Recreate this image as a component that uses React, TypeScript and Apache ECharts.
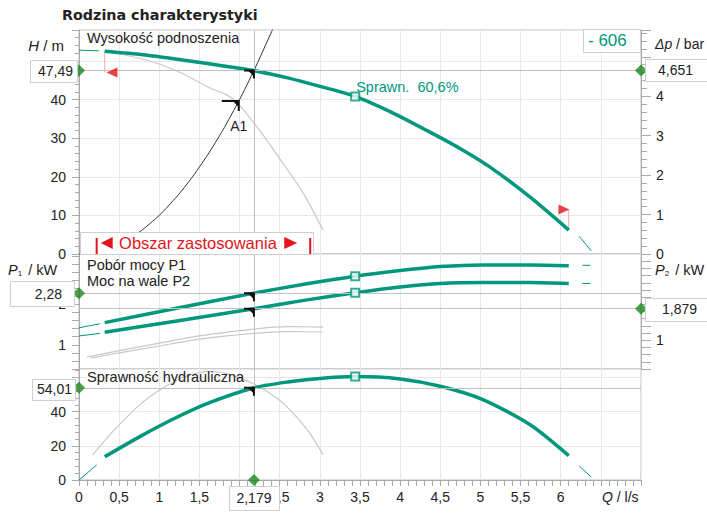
import React, { useEffect, useRef } from "react";
import * as echarts from "echarts";

const FONT = "'Liberation Sans', Arial, Helvetica, sans-serif";
const TEAL = "#00977c";
const GREY = "#c8c8c8";
const GRIDC = "#e8e8e8";
const AXIS = "#aaaaaa";
const OPLINE = "#c2c2c2";
const DIAMOND = "#1d8a1d";
const RED = "#e3141b";
const PINK = "#f2a9a9";

// operating point
const qOp = 2.179;
const headOp = 47.49;
const dpOp = 4.651;
const p1Op = 2.28;
const p2Op = 1.879;
const etaOp = 54.01;
// best efficiency point
const qBep = 3.44;
const headBep = 40.8;
const p1Bep = 2.7;
const p2Bep = 2.32;
const etaBep = 60.6;
const pumpLabel = "- 606";
const bepLabel = "Sprawn.  60,6%";
const a1Point = [1.99, 39.6];
const rangeBarsQ = [0.22, 2.88];
const rangeArrowLeft = [0.41, 47.0];
const rangeArrowRight = [6.04, 11.5];

// head H [m]
const headStart = [[0, 52.8], [0.25, 52.6]];
const headCurve = [
  [0.32, 52.5], [0.8, 51.6], [1.2, 50.5], [1.6, 49.3], [2.0, 48.1], [2.179, 47.49],
  [2.6, 45.6], [3.0, 43.4], [3.44, 40.8], [3.9, 36.6], [4.33, 32.0], [4.74, 27.4],
  [5.12, 22.5], [5.62, 14.7], [6.1, 6.2],
];
const headEnd = [[6.23, 4.6], [6.38, 0.8]];
const headMin = [
  [0.32, 52.3], [0.6, 51.4], [1.0, 49.2], [1.3, 46.6], [1.63, 43.0], [1.84, 41.2],
  [1.97, 39.2], [2.25, 32.0], [2.54, 23.5], [2.8, 15.5], [3.04, 6.2],
];
const systemCurve = [
  [0, 0], [0.5, 2.5], [0.76, 5.8], [1.0, 10.0], [1.22, 14.9], [1.4, 19.6], [1.6, 25.6],
  [1.79, 32.0], [2.0, 40.0], [2.179, 47.49], [2.4, 57.6], [2.42, 58.6],
];
const rangeLineLeft = [[0.32, 52.5], [0.32, 47.0]];
const rangeLineRight = [[6.1, 6.2], [6.1, 11.5]];

// power P1 / P2 [kW]
const p1Start = [[0, 1.42], [0.26, 1.52]];
const p1Curve = [
  [0.32, 1.55], [1.2, 1.9], [2.179, 2.28], [2.8, 2.5], [3.44, 2.7], [4.0, 2.84],
  [4.5, 2.94], [5.03, 2.98], [5.62, 2.98], [6.1, 2.96],
];
const p1End = [[6.27, 2.97], [6.37, 2.97]];
const p1Min = [[0.1, 0.7], [1.0, 1.04], [1.5, 1.22], [2.18, 1.39], [2.6, 1.45], [3.04, 1.44]];
const p2Start = [[0, 1.12], [0.26, 1.19]];
const p2Curve = [
  [0.32, 1.22], [1.2, 1.53], [2.179, 1.879], [2.8, 2.11], [3.44, 2.32], [4.0, 2.48],
  [4.5, 2.58], [5.03, 2.61], [5.62, 2.61], [6.1, 2.58],
];
const p2End = [[6.27, 2.58], [6.37, 2.58]];
const p2Min = [[0.15, 0.51], [1.0, 0.84], [1.5, 1.03], [2.18, 1.19], [2.6, 1.24], [3.04, 1.23]];

// hydraulic efficiency [%]
const etaStart = [[0, 0], [0.22, 8.8]];
const etaCurve = [
  [0.32, 13.6], [0.78, 26.0], [1.2, 36.3], [1.61, 45.0], [2.179, 54.01], [2.6, 57.4],
  [3.0, 59.5], [3.44, 60.6], [4.0, 59.2], [4.5, 54.9], [5.03, 47.1], [5.62, 32.4], [6.1, 14.3],
];
const etaEnd = [[6.23, 8.2], [6.38, 1.8]];
const etaMin = [
  [0.17, 14.7], [0.36, 25.3], [0.6, 37], [0.78, 45], [1.0, 52.5], [1.2, 58], [1.4, 61.8],
  [1.6, 63.5], [1.8, 62.8], [1.94, 60.8], [2.19, 55.9], [2.4, 50], [2.6, 42.4], [2.85, 29], [3.04, 14.7],
];

const fmt = (v: number) => String(+v.toFixed(3)).replace(".", ",");
const near = (a: number, b: number) => Math.abs(a - b) < 1e-6;

const tickLabel = { color: "#222", fontSize: 14, fontFamily: FONT };

function L(data: any, xi: number, yi: number, color: string, width: number, extra: any = {}) {
  return {
    type: "line", data, xAxisIndex: xi, yAxisIndex: yi, symbol: "none", showSymbol: false,
    smooth: 0.25, lineStyle: { color, width }, silent: true, z: 3, ...extra,
  };
}
function opLine(data: any[]) {
  return { silent: true, symbol: "none", label: { show: false }, lineStyle: { color: OPLINE, width: 1, type: "solid" }, data };
}
function S(data: any, xi: number, yi: number, extra: any = {}) {
  return { type: "scatter", data, xAxisIndex: xi, yAxisIndex: yi, silent: true, clip: false, z: 6, ...extra };
}
const square = { symbol: "rect", symbolSize: 8, itemStyle: { color: "#fff", borderColor: TEAL, borderWidth: 2 } };
const diamond = { symbol: "diamond", symbolSize: 12, itemStyle: { color: DIAMOND } };

function xAxisFor(gi: number, bottom: boolean) {
  return {
    type: "value", gridIndex: gi, min: 0, max: 7, interval: 0.5,
    axisLine: { show: bottom, lineStyle: { color: AXIS } },
    axisTick: { show: bottom, length: 6, lineStyle: { color: AXIS } },
    minorTick: { show: bottom, splitNumber: 5, length: 6, lineStyle: { color: AXIS } },
    axisLabel: {
      show: bottom, margin: 10, ...tickLabel,
      formatter: (v: number) => (v > 6.01 || near(v, 2) ? "" : fmt(v)),
    },
    splitLine: { show: true, lineStyle: { color: GRIDC } },
  };
}
function yAxisFor(gi: number, pos: string, min: number, max: number, interval: number, formatter: any, split: boolean, minor: number) {
  const right = pos === "right";
  return {
    type: "value", gridIndex: gi, position: pos, min, max, interval,
    axisLine: { show: true, lineStyle: { color: AXIS } },
    axisTick: { show: true, length: right ? 10 : 7, lineStyle: { color: AXIS } },
    minorTick: { show: minor > 0, splitNumber: minor || 5, length: right ? 6 : 4, lineStyle: { color: AXIS } },
    axisLabel: { margin: right ? 15 : 13, ...tickLabel, formatter },
    splitLine: { show: split, lineStyle: { color: GRIDC } },
  };
}

function buildOption() {
  const gridStyle = { show: true, borderColor: "#bdbdbd", borderWidth: 1, backgroundColor: "transparent", left: 79, right: 66 };
  return {
    animation: false,
    grid: [
      { ...gridStyle, top: 30, height: 224 },
      { ...gridStyle, top: 254, height: 115 },
      { ...gridStyle, top: 369, height: 111 },
    ],
    xAxis: [xAxisFor(0, false), xAxisFor(1, false), xAxisFor(2, true)],
    yAxis: [
      yAxisFor(0, "left", 0, 58, 10, (v: number) => (v > 45 ? "" : String(v)), true, 5),
      yAxisFor(0, "right", 0, 5.68, 1, (v: number) => (v > 4.5 ? "" : String(v)), false, 5),
      yAxisFor(1, "left", 0.4, 3.25, 0.2, (v: number) => (near(v, 1) ? "1" : near(v, 2) ? "2" : ""), false, 0),
      yAxisFor(1, "right", 0.2, 3.4, 0.2, (v: number) => (near(v, 1) ? "1" : ""), false, 0),
      yAxisFor(2, "left", 0, 65, 20, (v: number) => (v > 45 ? "" : String(v)), true, 5),
    ],
    series: [
      // top panel
      L(headMin, 0, 0, GREY, 1.2),
      L(systemCurve, 0, 0, "#333", 1, { smooth: 0.2 }),
      L(rangeLineLeft, 0, 0, PINK, 1, { smooth: false }),
      L(rangeLineRight, 0, 0, PINK, 1, { smooth: false }),
      L(headStart, 0, 0, TEAL, 1, { smooth: false }),
      L(headCurve, 0, 0, TEAL, 3.5, { z: 4, markLine: opLine([{ xAxis: qOp }, { yAxis: headOp }]) }),
      L(headEnd, 0, 0, TEAL, 1, { smooth: false }),
      S([[qBep, headBep]], 0, 0, square),
      S([
        { value: rangeArrowLeft, symbolRotate: 90 },
        { value: rangeArrowRight, symbolRotate: -90 },
      ], 0, 0, { symbol: "triangle", symbolSize: [10, 11], itemStyle: { color: RED } }),
      S([[0, headOp], [7, headOp]], 0, 0, diamond),
      // middle panel
      L(p1Min, 1, 2, GREY, 1.2),
      L(p2Min, 1, 3, GREY, 1.2),
      L(p1Start, 1, 2, TEAL, 1, { smooth: false }),
      L(p1Curve, 1, 2, TEAL, 3.5, { z: 4, markLine: opLine([{ xAxis: qOp }, { yAxis: p1Op }]) }),
      L(p1End, 1, 2, TEAL, 1, { smooth: false }),
      L(p2Start, 1, 3, TEAL, 1, { smooth: false }),
      L(p2Curve, 1, 3, TEAL, 3.5, { z: 4, markLine: opLine([{ yAxis: p2Op }]) }),
      L(p2End, 1, 3, TEAL, 1, { smooth: false }),
      S([[qBep, p1Bep]], 1, 2, square),
      S([[qBep, p2Bep]], 1, 3, square),
      S([[0, p1Op]], 1, 2, diamond),
      S([[7, p2Op]], 1, 3, diamond),
      // bottom panel
      L(etaMin, 2, 4, GREY, 1.2),
      L(etaStart, 2, 4, TEAL, 1, { smooth: false }),
      L(etaCurve, 2, 4, TEAL, 3.5, { z: 4, markLine: opLine([{ xAxis: qOp }, { yAxis: etaOp }]) }),
      L(etaEnd, 2, 4, TEAL, 1, { smooth: false }),
      S([[qBep, etaBep]], 2, 4, square),
      S([[0, etaOp], [qOp, 0]], 2, 4, diamond),
    ],
  };
}

function buildGraphics(chart: any) {
  const P = (xi: number, yi: number, x: number, y: number): number[] =>
    chart.convertToPixel({ xAxisIndex: xi, yAxisIndex: yi }, [x, y]);
  const els: any[] = [];
  const text = (x: number, y: number, t: string, o: any = {}) => {
    const align = o.align || "left";
    els.push({
      type: "text", z: 101, silent: true, x, y,
      style: {
        text: t, fill: o.fill || "#222", fontSize: o.fontSize || 14, fontFamily: o.fontFamily || FONT,
        fontWeight: o.fontWeight || "normal", align, textAlign: align,
        verticalAlign: "middle", textVerticalAlign: "middle", rich: o.rich,
      },
    });
  };
  const box = (x: number, y: number, w: number, h: number) =>
    els.push({
      type: "rect", z: 100, silent: true,
      shape: { x: Math.round(x) + 0.5, y: Math.round(y) + 0.5, width: w, height: h },
      style: { fill: "#fff", stroke: "#cfcfcf", lineWidth: 1 },
    });
  const bracket = (x: number, y: number, w: number, h: number) => {
    els.push({ type: "polyline", z: 90, silent: true, shape: { points: [[x - w, y], [x, y], [x, y + h]] }, style: { stroke: "#111", lineWidth: 2, fill: null } });
    els.push({ type: "polygon", z: 90, silent: true, shape: { points: [[x - 6, y], [x, y], [x, y + 6]] }, style: { fill: "#111" } });
  };
  const italic = (size: number) => ({ fontStyle: "italic", fontSize: size, fontFamily: FONT, fill: "#222" });

  // titles
  text(62, 15, "Rodzina charakterystyki", { fontFamily: "'DejaVu Sans', Verdana, sans-serif", fontWeight: "bold", fontSize: 14.3 });
  text(87, 38, "Wysokość podnoszenia", { fontSize: 14.5 });
  text(87, 265, "Pobór mocy P1", { fontSize: 14.5 });
  text(87, 281, "Moc na wale P2", { fontSize: 14.5 });
  text(87, 377, "Sprawność hydrauliczna", { fontSize: 14.5 });

  // axis names
  text(64, 45, "{i|H} / m", { align: "right", fontSize: 15, rich: { i: italic(15) } });
  text(655, 44, "{i|Δp} / bar", { fontSize: 14, rich: { i: italic(14) } });
  const sub = { fontSize: 8, fontFamily: FONT, fill: "#222", verticalAlign: "bottom", padding: [6, 2, 0, 0] };
  text(8, 270, "{i|P}{s|1} / kW", { fontSize: 14.5, rich: { i: italic(14.5), s: sub } });
  text(655, 270, "{i|P}{s|2} / kW", { fontSize: 14.5, rich: { i: italic(14.5), s: sub } });
  text(602, 497, "{i|Q} / l/s", { fontSize: 14, rich: { i: italic(14) } });

  // pump size label
  box(583, 29, 57, 23);
  text(588, 40.5, pumpLabel, { fill: TEAL, fontSize: 17 });

  const rightX = P(0, 0, 7, 0)[0];
  // operating point labels
  const [hx, hy] = P(0, 0, qOp, headOp);
  box(30, hy - 11, 47, 22);
  text(73, hy + 0.5, fmt(headOp), { align: "right" });
  box(rightX + 4, hy - 12, 70, 22);
  text(rightX + 17, hy - 1, fmt(dpOp));
  bracket(hx, hy, 10, 8);

  const [p1x, p1y] = P(1, 2, qOp, p1Op);
  box(10, p1y - 12, 64, 25);
  text(62, p1y + 0.5, fmt(p1Op), { align: "right" });
  bracket(p1x, p1y, 10, 8);

  const [p2x, p2y] = P(1, 3, qOp, p2Op);
  box(rightX + 4, p2y - 11, 70, 23);
  text(rightX + 21, p2y + 0.5, fmt(p2Op));
  bracket(p2x, p2y, 10, 8);

  const [ex, ey] = P(2, 4, qOp, etaOp);
  box(32, ey - 9, 43, 21);
  text(72, ey + 1.5, fmt(etaOp), { align: "right" });
  bracket(ex, ey, 10, 8);

  const [qx, qy] = P(2, 4, qOp, 0);
  box(qx - 25, qy + 6, 50, 24);
  text(qx, qy + 18, fmt(qOp), { align: "center" });

  // A1 point
  const [ax, ay] = P(0, 0, a1Point[0], a1Point[1]);
  bracket(ax, ay, 17, 10);
  text(ax, ay + 25, "A1", { align: "center" });

  // BEP label
  const [bx, by] = P(0, 0, qBep, headBep);
  text(bx + 1, by - 9, bepLabel, { fill: TEAL, fontSize: 14.5 });

  // application range legend
  const y0 = P(0, 0, 0, 0)[1];
  box(80, y0 - 22, 233, 22);
  const lb = P(0, 0, rangeBarsQ[0], 0)[0];
  const rb = P(0, 0, rangeBarsQ[1], 0)[0];
  for (const bxp of [lb, rb]) {
    els.push({ type: "line", z: 102, silent: true, shape: { x1: bxp, y1: y0 - 16, x2: bxp, y2: y0 }, style: { stroke: RED, lineWidth: 2 } });
  }
  const cy = y0 - 11;
  els.push({ type: "polygon", z: 102, silent: true, shape: { points: [[lb + 4, cy], [lb + 16, cy - 6], [lb + 16, cy + 6]] }, style: { fill: RED } });
  els.push({ type: "polygon", z: 102, silent: true, shape: { points: [[rb - 13, cy], [rb - 26, cy - 6], [rb - 26, cy + 6]] }, style: { fill: RED } });
  text((lb + rb) / 2 - 5.5, cy, "Obszar zastosowania", { align: "center", fill: RED, fontSize: 16.5 });

  return els;
}

export default function App() {
  const ref = useRef<HTMLDivElement>(null);
  useEffect(() => {
    const chart = echarts.init(ref.current as HTMLDivElement, null, { renderer: "svg" });
    chart.setOption(buildOption() as any);
    chart.setOption({ graphic: buildGraphics(chart) } as any);
    return () => chart.dispose();
  }, []);
  return (
    <div
      ref={ref}
      style={{ position: "fixed", left: 0, top: 0, width: 707, height: 513, background: "#fff" }}
    />
  );
}
